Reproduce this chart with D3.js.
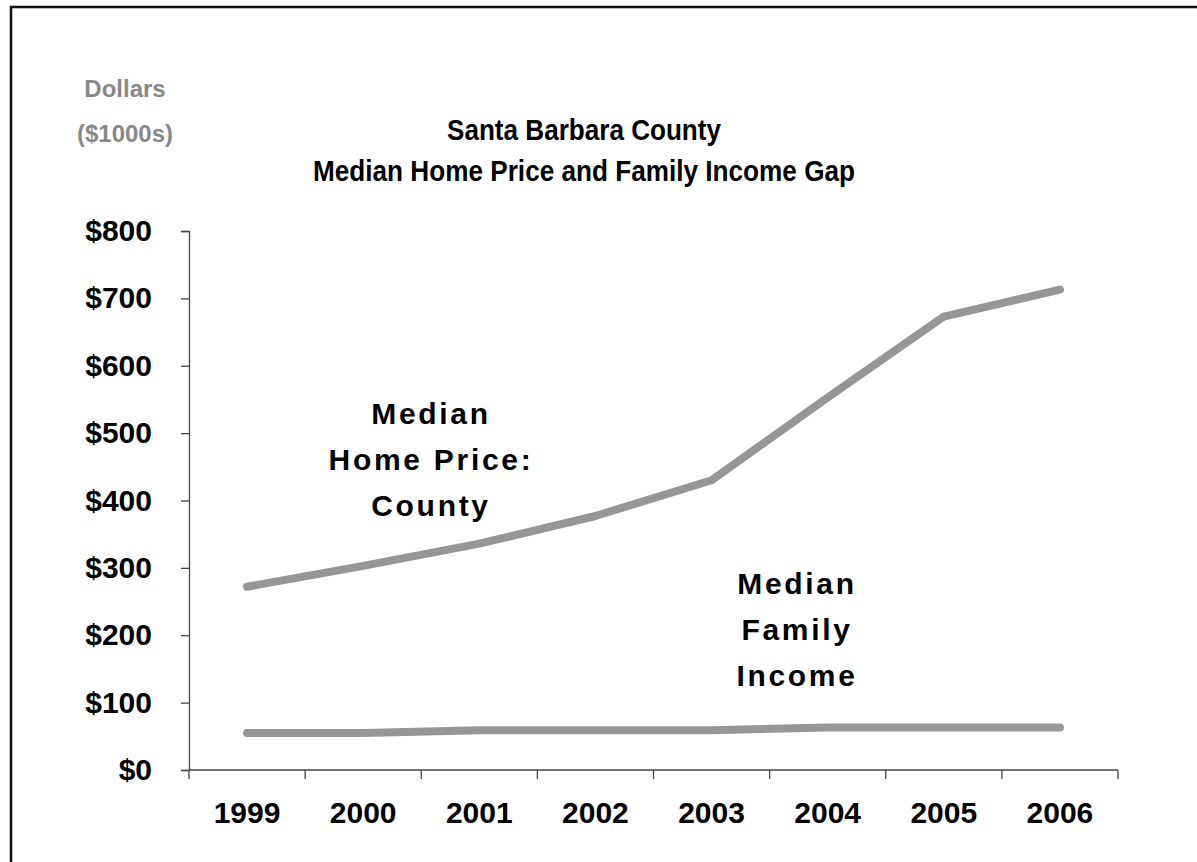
<!DOCTYPE html>
<html>
<head>
<meta charset="utf-8">
<script src="https://cdn.jsdelivr.net/npm/d3@7"></script>
<style>
  body { margin: 0; background: #fff; }
  text { font-family: "Liberation Sans", Arial, sans-serif; font-weight: bold; }
</style>
</head>
<body>
<svg width="1197" height="862"></svg>
<script>
var years = ["1999", "2000", "2001", "2002", "2003", "2004", "2005", "2006"];
var homePrice = [272, 303, 336, 377, 430, 553, 673, 713];
var familyIncome = [55, 55, 59, 59, 59, 63, 63, 63];
var yTicks = [0, 100, 200, 300, 400, 500, 600, 700, 800];

var svg = d3.select("svg");

// frame (open on right and bottom, like the cropped slide)
svg.append("rect")
    .attr("x", 11).attr("y", 7)
    .attr("width", 1300).attr("height", 1000)
    .attr("fill", "none")
    .attr("stroke", "#111")
    .attr("stroke-width", 2.5);

var x = d3.scaleBand().domain(years).range([189, 1118]);
var y = d3.scaleLinear().domain([0, 800]).range([770, 231]);

// y axis
var yAxis = svg.append("g")
    .attr("transform", "translate(189,0)")
    .call(d3.axisLeft(y).tickValues(yTicks).tickSize(8).tickPadding(29)
      .tickFormat(function(d) { return "$" + d; }));
yAxis.selectAll("text").style("font-size", "30px").attr("fill", "#000");
yAxis.selectAll("line, path").attr("stroke", "#444").attr("stroke-width", 1.3);

// x axis
var xAxis = svg.append("g")
    .attr("transform", "translate(0,770)")
    .call(d3.axisBottom(x).tickSize(0).tickPadding(32));
xAxis.selectAll("text").style("font-size", "30px").attr("fill", "#000");
xAxis.select(".domain").attr("stroke", "#444").attr("stroke-width", 1.3).attr("d", "M189,0H1118");
xAxis.selectAll(".tick line").remove();
// tick marks between categories
xAxis.selectAll(".sep")
    .data(years.concat(["end"]))
    .enter().append("line")
    .attr("x1", function(d, i) { return 189 + i * x.step(); })
    .attr("x2", function(d, i) { return 189 + i * x.step(); })
    .attr("y1", 0).attr("y2", 9)
    .attr("stroke", "#444").attr("stroke-width", 1.3);

var line = d3.line()
    .x(function(d, i) { return x(years[i]) + x.bandwidth() / 2; })
    .y(function(d) { return y(d); });

[homePrice, familyIncome].forEach(function(s) {
  svg.append("path")
      .datum(s)
      .attr("d", line)
      .attr("fill", "none")
      .attr("stroke", "#969696")
      .attr("stroke-width", 8)
      .attr("stroke-linecap", "round")
      .attr("stroke-linejoin", "round");
});

// y label
svg.append("text").attr("x", 125).attr("y", 97).attr("text-anchor", "middle")
    .style("font-size", "24px").attr("fill", "#888").text("Dollars");
svg.append("text").attr("x", 125).attr("y", 142).attr("text-anchor", "middle")
    .style("font-size", "24px").attr("fill", "#888").text("($1000s)");

// title (slightly condensed like the original)
svg.append("text").attr("x", 584).attr("y", 140).attr("text-anchor", "middle")
    .style("font-size", "29px").attr("fill", "#000")
    .attr("textLength", 274).attr("lengthAdjust", "spacingAndGlyphs")
    .text("Santa Barbara County");
svg.append("text").attr("x", 584).attr("y", 181).attr("text-anchor", "middle")
    .style("font-size", "29px").attr("fill", "#000")
    .attr("textLength", 542).attr("lengthAdjust", "spacingAndGlyphs")
    .text("Median Home Price and Family Income Gap");

// annotations
function note(lines, cx, y0) {
  lines.forEach(function(t, i) {
    svg.append("text").attr("x", cx).attr("y", y0 + i * 46)
        .attr("text-anchor", "middle")
        .style("font-size", "30px").style("letter-spacing", "2.7px")
        .attr("fill", "#000").text(t);
  });
}
note(["Median", "Home Price:", "County"], 431, 424);
note(["Median", "Family", "Income"], 797, 594);
</script>
</body>
</html>
